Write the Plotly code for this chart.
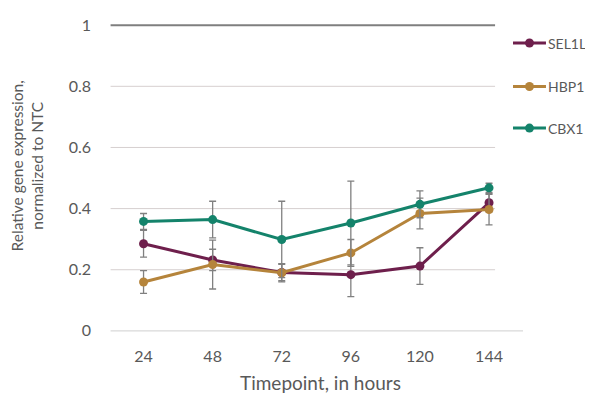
import plotly.graph_objects as go

timepoints = [24, 48, 72, 96, 120, 144]
tick_labels = ["24", "48", "72", "96", "120", "144"]

sel1l = [0.285, 0.232, 0.191, 0.184, 0.212, 0.419]
sel1l_err = [0.044, 0.035, 0.027, 0.072, 0.06, 0.03]
hbp1 = [0.160, 0.217, 0.190, 0.255, 0.384, 0.397]
hbp1_err = [0.037, 0.08, 0.03, 0.044, 0.05, 0.05]
cbx1 = [0.358, 0.364, 0.299, 0.353, 0.414, 0.468]
cbx1_err = [0.026, 0.06, 0.125, 0.137, 0.044, 0.015]

y_ticks = [0, 0.2, 0.4, 0.6, 0.8, 1]
y_tick_text = ["0", "0.2", "0.4", "0.6", "0.8", "1"]

series = [
    ("SEL1L", sel1l, sel1l_err, "#6e1f4c"),
    ("HBP1", hbp1, hbp1_err, "#b5843b"),
    ("CBX1", cbx1, cbx1_err, "#14836b"),
]

font = "Lato, 'Open Sans', sans-serif"
grey_text = "#595959"

# page body margin offset (the figure is drawn 8px right/down in the window)
OFF = 8
W, H = 593 - OFF, 394 - OFF
# desired plot area in window pixels
left_px, right_px = 108.5, 523.0
top_px, bottom_px = 16.3, 337.1
ml = left_px - OFF
mr = W - (right_px - OFF)
mt = top_px - OFF
mb = H - (bottom_px - OFF)
pw = W - ml - mr
ph = H - mt - mb


def px_x(xw):
    return (xw - OFF - ml) / pw


def px_y(yw):
    return (H - mb - (yw - OFF)) / ph


fig = go.Figure()
for i, (name, vals, err, col) in enumerate(series):
    fig.add_trace(go.Scatter(
        x=timepoints, y=vals, name=name, mode="lines+markers",
        showlegend=False,
        line=dict(color=col, width=3),
        marker=dict(color=col, size=9),
        error_y=dict(type="data", array=err, visible=True,
                     color="#808080", thickness=1.3, width=3.5),
    ))

x_min, x_max = 12.0, 155.8
grid_left, grid_right = 12.55, 146.1

shapes = []
for v in y_ticks[1:-1]:
    shapes.append(dict(type="line", xref="x", yref="y", x0=grid_left, x1=grid_right,
                       y0=v, y1=v, line=dict(color="#d6cfcf", width=1), layer="below"))
shapes.append(dict(type="line", xref="x", yref="y", x0=grid_left, x1=x_max,
                   y0=y_ticks[0], y1=y_ticks[0], line=dict(color="#d9d9d9", width=1.3), layer="below"))
shapes.append(dict(type="line", xref="x", yref="y", x0=grid_left, x1=grid_right,
                   y0=y_ticks[-1], y1=y_ticks[-1], line=dict(color="#7f7f7f", width=2), layer="below"))

annotations = [
    dict(text="Timepoint, in hours", xref="paper", yref="paper",
         x=px_x(320), y=px_y(383),
         xanchor="center", yanchor="middle", showarrow=False,
         font=dict(size=19, color=grey_text)),
    dict(text="Relative gene expression,<br>normalized to NTC", xref="paper", yref="paper",
         x=px_x(26), y=px_y(166),
         xanchor="center", yanchor="middle", showarrow=False, textangle=-90,
         font=dict(size=15.5, color=grey_text)),
]

# manual legend (window pixel layout)
legend_rows = [43.3, 86.7, 128.3]
for (name, _, _, col), ly in zip(series, legend_rows):
    shapes.append(dict(type="line", xref="paper", yref="paper",
                       x0=px_x(513), x1=px_x(546), y0=px_y(ly), y1=px_y(ly),
                       line=dict(color=col, width=3)))
    shapes.append(dict(type="circle", xref="paper", yref="paper",
                       x0=px_x(525), x1=px_x(534), y0=px_y(ly - 4.5), y1=px_y(ly + 4.5),
                       fillcolor=col, line=dict(color=col, width=0)))
    annotations.append(dict(text=name, xref="paper", yref="paper",
                            x=px_x(546), y=px_y(ly), xanchor="left", yanchor="middle",
                            showarrow=False, font=dict(size=14, color=grey_text)))

fig.update_layout(
    width=W, height=H,
    margin=dict(l=ml, r=mr, t=mt, b=mb, autoexpand=False),
    paper_bgcolor="white", plot_bgcolor="white",
    font=dict(family=font, color=grey_text, size=14),
    showlegend=False,
    shapes=shapes,
    xaxis=dict(range=[x_min, x_max], tickvals=timepoints, ticktext=tick_labels,
               showgrid=False, zeroline=False, showline=False, ticks="",
               automargin=False,
               tickfont=dict(size=16, color=grey_text), ticklabelstandoff=8),
    yaxis=dict(range=[-0.02, 1.03], tickvals=y_ticks, ticktext=y_tick_text,
               showgrid=False, zeroline=False, showline=False, ticks="",
               automargin=False,
               tickfont=dict(size=16, color=grey_text), ticklabelstandoff=17),
    annotations=annotations,
)

fig.write_html("out.html")
